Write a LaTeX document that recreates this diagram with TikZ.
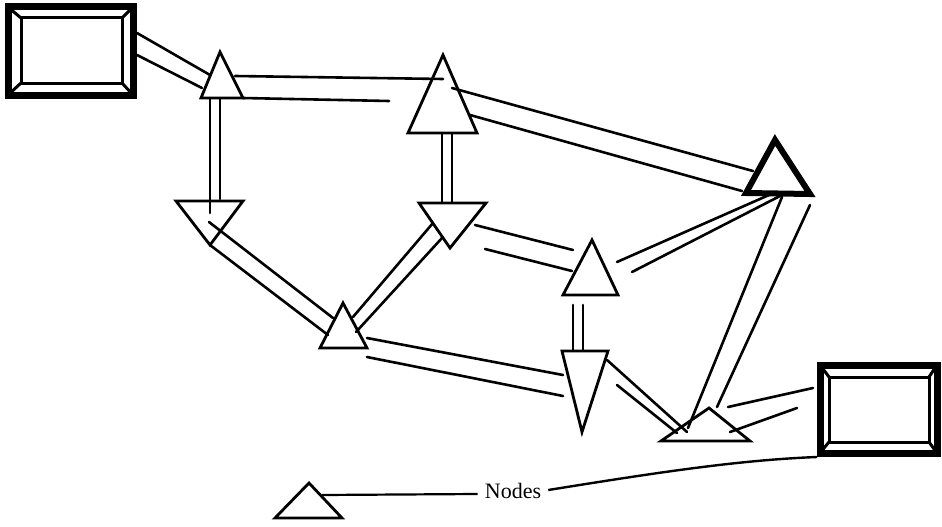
\documentclass[tikz,border=0pt]{standalone}
\usepackage{fontspec}
\setmainfont{Liberation Serif}
\begin{document}
\begin{tikzpicture}[x=1pt,y=-1pt,
  ln/.style={line width=2.6pt, line cap=round},
  tri/.style={line width=2.8pt, line join=miter},
  thicktri/.style={line width=6pt, line join=miter},
  frame/.style={line width=7pt},
  innerframe/.style={line width=3pt}]
\useasboundingbox (0,0) rectangle (942,527);

% Box A (top left)
\draw[frame] (8,7) coordinate (Anw) rectangle (133,95) coordinate (Ase);
\draw[innerframe] (21,18) coordinate (Ainw) rectangle (122,83) coordinate (Aise);
\draw[innerframe] (Anw) -- (Ainw) (Ase) -- (Aise)
  (Anw -| Ase) -- (Ainw -| Aise) (Anw |- Ase) -- (Ainw |- Aise);

% Box B (bottom right)
\draw[frame] (820,365) coordinate (Bnw) rectangle (937,453) coordinate (Bse);
\draw[innerframe] (829,377) coordinate (Binw) rectangle (929,442) coordinate (Bise);
\draw[innerframe] (Bnw) -- (Binw) (Bse) -- (Bise)
  (Bnw -| Bse) -- (Binw -| Bise) (Bnw |- Bse) -- (Binw |- Bise);
\coordinate (Bsw) at (817,457);

% Triangles
\draw[tri] (220,52) coordinate (T1) -- (201,98) -- (243,98) -- cycle;
\draw[tri] (443,55) coordinate (T2) -- (408,133) -- (477,133) -- cycle;
\draw[tri] (419,203) -- (486,203) -- (450,248) coordinate (T3) -- cycle;
\draw[thicktri] (775,140) coordinate (T4) -- (746,193) -- (810,194) -- cycle;
\draw[tri] (176,201) -- (243,201) -- (210,245) coordinate (T5) -- cycle;
\draw[tri] (343,303) coordinate (T6) -- (320,348) -- (367,348) -- cycle;
\draw[tri] (592,240) coordinate (T7) -- (563,295) -- (618,295) -- cycle;
\draw[tri] (562,351) -- (608,351) -- (582,432) coordinate (T8) -- cycle;
\draw[tri] (709,408) coordinate (T9) -- (661,441) -- (750,441) -- cycle;
\draw[tri] (309,483) coordinate (TL) -- (275,518) -- (342,518) -- cycle;

% Pipes (double lines)
\draw[ln] (137,33) -- (210,75);   \draw[ln] (137,55) -- (202,88);    % A - T1
\draw[ln] (235,76) -- (443,79);   \draw[ln] (243,98) -- (389,101);   % T1 - T2
\draw[ln] (452,88) -- (753,171);  \draw[ln] (470,115) -- (742,191);  % T2 - T4
\draw[ln] (210,99) -- (210,213);  \draw[ln] (220,99) -- (220,199);   % T1 - T5
\draw[ln] (442,133) -- (442,203); \draw[ln] (452,133) -- (452,203);  % T2 - T3
\draw[ln] (209,222) -- (333,318); \draw[ln] (210,245) -- (328,335);  % T5 - T6
\draw[ln] (353,317) -- (433,223); \draw[ln] (356,332) -- (442,238);  % T6 - T3
\draw[ln] (475,225) -- (573,250); \draw[ln] (485,249) -- (572,271);  % T3 - T7
\draw[ln] (367,338) -- (563,375); \draw[ln] (367,357) -- (563,396);  % T6 - T8
\draw[ln] (573,305) -- (573,350); \draw[ln] (583,305) -- (583,350);  % T7 - T8
\draw[ln] (617,262) -- (769,195); \draw[ln] (632,272) -- (780,196);  % T7 - T4
\draw[ln] (607,360) -- (687,432); \draw[ln] (617,385) -- (677,433);  % T8 - T9
\draw[ln] (782,197) -- (688,428); \draw[ln] (810,205) -- (717,407);  % T4 - T9
\draw[ln] (728,407) -- (813,388); \draw[ln] (730,432) -- (797,408);  % T9 - B

% Legend
\node[font=\fontsize{22}{24}\selectfont, inner xsep=7pt, inner ysep=0pt] (lbl) at (513,491) {Nodes};
\coordinate (TLr) at (322,495);
\draw[line width=2.2pt] (TLr) -- ([yshift=-3pt]lbl.west);
\draw[line width=2.4pt] ([yshift=1pt]lbl.east) .. controls (660,472) and (740,460) .. (Bsw);
\end{tikzpicture}
\end{document}
